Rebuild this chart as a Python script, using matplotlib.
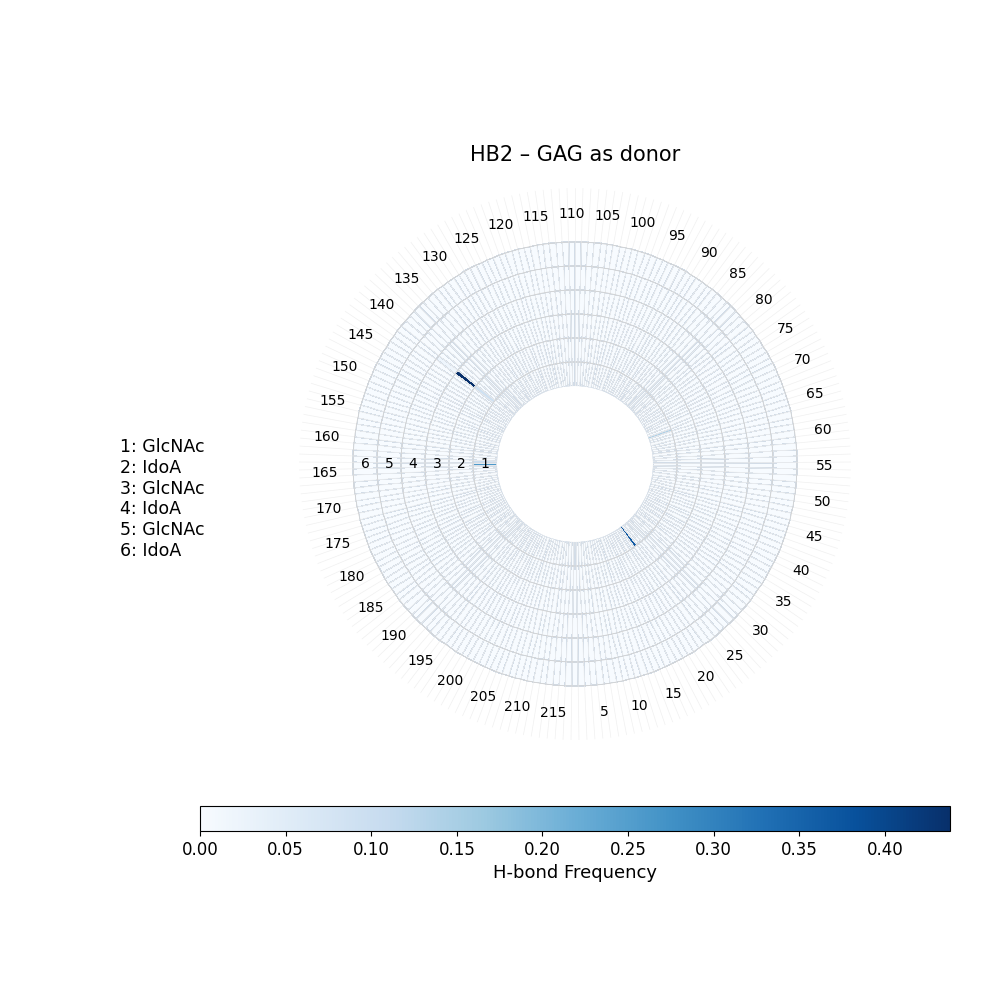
import numpy as np
import matplotlib.pyplot as plt

# residues on the angular axis, GAG units on the radial axis
n_res = 217
ring_names = ["GlcNAc", "IdoA", "GlcNAc", "IdoA", "GlcNAc", "IdoA"]
tick_residues = list(range(5, 216, 5))

# non-zero H-bond frequencies: (ring, residue, frequency)
hit_rings = [1, 1, 1, 1, 2, 3, 4]
hit_residues = [23, 67, 163, 164, 141, 141, 141]
hit_freqs = [0.37, 0.14, 0.10, 0.26, 0.09, 0.438, 0.02]

freq = np.zeros((len(ring_names), n_res))
for ring, res, f in zip(hit_rings, hit_residues, hit_freqs):
    freq[ring - 1, res - 1] = f

hole = 3.25
dtheta = 2 * np.pi / n_res
theta_edges = np.arange(n_res + 1) * dtheta
r_edges = np.arange(len(ring_names) + 1)

fig = plt.figure(figsize=(10, 10), dpi=100)
ax = fig.add_axes([0.299, 0.26, 0.552, 0.552], projection="polar")
# residue i is centred on (i-1)*dtheta measured from south
ax.set_theta_zero_location("S", offset=-0.5 * 360 / n_res)
ax.set_theta_direction(1)

T, R = np.meshgrid(theta_edges, r_edges)
mesh = ax.pcolormesh(T, R, freq, cmap="Blues", vmin=0, vmax=freq.max(),
                     edgecolors="#d2dce7", linewidth=0.2)

ax.set_xlim(0, 2 * np.pi)
ax.set_rorigin(-hole)
ax.set_ylim(0, 8.25)
ax.set_yticks(r_edges[1:])
ax.set_yticklabels([])
ax.set_xticks(theta_edges[:-1])
ax.set_xticklabels([])
ax.xaxis.set_tick_params(tick1On=False, tick2On=False)
ax.yaxis.set_tick_params(tick1On=False, tick2On=False)
ax.xaxis.grid(True, color="#f0f0f0", linewidth=0.5)
ax.yaxis.grid(True, color="#d3d3d3", linewidth=0.6)
ax.set_frame_on(False)
for sp in ax.spines.values():
    sp.set_visible(False)
ax.patch.set_edgecolor("none")

for res in tick_residues:
    ax.text((res - 0.5) * dtheta, 7.17, str(res), ha="center", va="center", fontsize=10)

west = 1.5 * np.pi + 0.5 * dtheta
for i in range(len(ring_names)):
    ax.text(west, i + 0.5, str(i + 1), ha="center", va="center", fontsize=10)

fig.text(0.575, 0.845, "HB2 – GAG as donor", ha="center", va="center", fontsize=15)

legend_txt = "\n".join(f"{i + 1}: {name}" for i, name in enumerate(ring_names))
fig.text(0.12, 0.501, legend_txt, ha="left", va="center", fontsize=12.5, linespacing=1.2)

cax = fig.add_axes([0.2, 0.169, 0.75, 0.025])
cbar = fig.colorbar(mesh, cax=cax, orientation="horizontal")
cbar.set_ticks(np.arange(0, 0.45, 0.05))
cbar.ax.tick_params(labelsize=12)
cbar.set_label("H-bond Frequency", fontsize=13)

fig.savefig("out.png", dpi=100)
